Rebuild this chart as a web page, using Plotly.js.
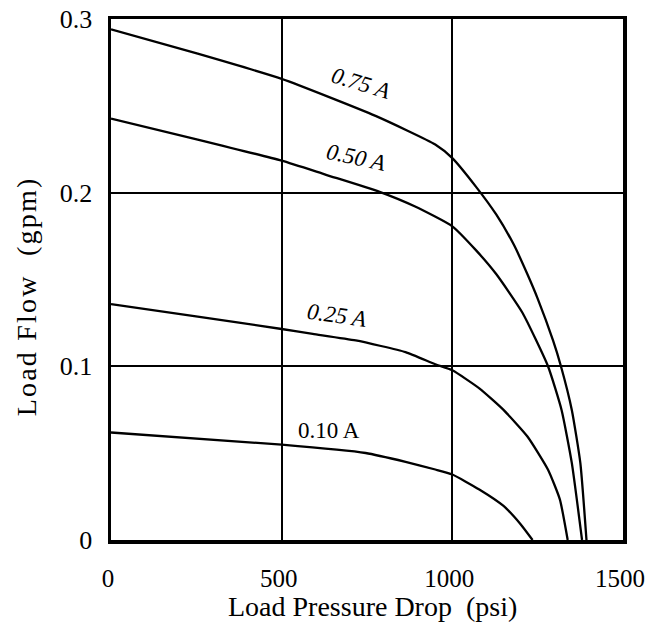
<!DOCTYPE html>
<html>
<head>
<meta charset="utf-8">
<script src="https://cdn.plot.ly/plotly-3.0.1.min.js"></script>
<style>html,body{margin:0;padding:0;background:#fff;}#chart{width:647px;height:622px;}</style>
</head>
<body>
<div id="chart"></div>
<script>
// Load pressure drop (psi) and load flow (gpm) for each valve current
const p075 = [0, 254, 500, 775, 950, 1000, 1069, 1129, 1180, 1220, 1250, 1295, 1318, 1350, 1375, 1393];
const q075 = [0.294, 0.280, 0.2655, 0.2442, 0.2277, 0.2199, 0.2035, 0.1873, 0.1701, 0.153, 0.139, 0.1149, 0.1002, 0.0749, 0.0444, 0];

const p050 = [0, 254, 500, 630, 785, 891, 1000, 1069, 1129, 1205, 1280, 1320, 1350, 1380];
const q050 = [0.2426, 0.2306, 0.2184, 0.2103, 0.2006, 0.192, 0.1806, 0.1669, 0.153, 0.131, 0.1002, 0.0749, 0.0444, 0];

const p025 = [0, 254, 500, 591, 717, 863, 950, 1000, 1079, 1150, 1220, 1280, 1315, 1338];
const q025 = [0.1358, 0.1286, 0.1215, 0.1187, 0.1149, 0.1082, 0.1012, 0.0977, 0.0873, 0.0749, 0.0596, 0.0406, 0.0234, 0];

const p010 = [0, 500, 746, 863, 950, 1000, 1079, 1150, 1200, 1235];
const q010 = [0.0619, 0.0549, 0.0501, 0.0450, 0.0406, 0.0377, 0.0291, 0.0196, 0.0091, 0];

const curveLabels = ["0.75 A", "0.50 A", "0.25 A", "0.10 A"];
const xTicks = [0, 500, 1000, 1500];
const xTickText = ["0", "500", "1000", "1500"];
const yTicks = [0, 0.1, 0.2, 0.3];
const yTickText = ["0", "0.1", "0.2", "0.3"];
const xTitle = "Load Pressure Drop  (psi)";
const yTitle = "Load Flow  (gpm)";

const FONT = "Liberation Serif, Times New Roman, serif";
const line = {color: "#000", width: 2.3, shape: "spline", smoothing: 0.5};

const traces = [
  {x: p075, y: q075, mode: "lines", line: line, name: curveLabels[0]},
  {x: p050, y: q050, mode: "lines", line: line, name: curveLabels[1]},
  {x: p025, y: q025, mode: "lines", line: line, name: curveLabels[2]},
  {x: p010, y: q010, mode: "lines", line: line, name: curveLabels[3]}
];

const layout = {
  width: 647, height: 622,
  margin: {l: 111, r: 24, t: 19, b: 82},
  paper_bgcolor: "#fff", plot_bgcolor: "#fff",
  showlegend: false,
  font: {family: FONT, color: "#000", size: 23},
  xaxis: {
    range: [0, 1500], tickvals: xTicks, ticktext: xTickText,
    showgrid: true, gridcolor: "#000", gridwidth: 1.8,
    zeroline: false, showline: true, linecolor: "#000", linewidth: 3.5, mirror: true,
    ticks: "", ticklabelstandoff: 13, ticklabelshift: -3, ticklabeloverflow: "allow",
    tickfont: {family: FONT, size: 25}
  },
  yaxis: {
    range: [0, 0.3], tickvals: yTicks, ticktext: yTickText,
    showgrid: true, gridcolor: "#000", gridwidth: 2,
    zeroline: false, showline: true, linecolor: "#000", linewidth: 3.5, mirror: true,
    ticks: "", ticklabelstandoff: 10, ticklabeloverflow: "allow",
    tickfont: {family: FONT, size: 26}
  },
  annotations: [
    {x: 735, y: 0.263, text: "<i>" + curveLabels[0] + "</i>", showarrow: false, textangle: 17, font: {family: FONT, size: 23}},
    {x: 720, y: 0.220, text: "<i>" + curveLabels[1] + "</i>", showarrow: false, textangle: 12, font: {family: FONT, size: 23}},
    {x: 665, y: 0.1295, text: "<i>" + curveLabels[2] + "</i>", showarrow: false, textangle: 8, font: {family: FONT, size: 23}},
    {x: 640, y: 0.063, text: curveLabels[3], showarrow: false, textangle: 0, font: {family: FONT, size: 23}},
    {xref: "paper", yref: "paper", x: 0.5115, y: -0.127, text: xTitle, showarrow: false,
     xanchor: "center", yanchor: "middle", font: {family: FONT, size: 28}},
    {xref: "paper", yref: "paper", x: -0.165, y: 0.468, text: yTitle, showarrow: false, textangle: -90,
     xanchor: "center", yanchor: "middle", font: {family: FONT, size: 28}}
  ]
};

Plotly.newPlot("chart", traces, layout, {displayModeBar: false, staticPlot: true}).then(function (gd) {
  // widen the vertical title's letter spacing like the scanned original
  gd.querySelectorAll(".annotation-text").forEach(function (t) {
    if (t.textContent === yTitle) t.setAttribute("letter-spacing", "2.2px");
  });
});
</script>
</body>
</html>
